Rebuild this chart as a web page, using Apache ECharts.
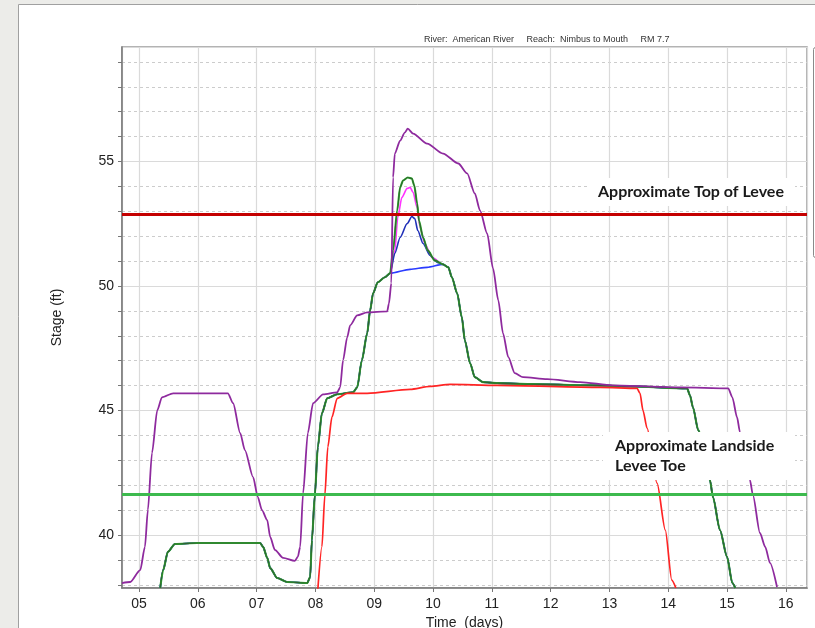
<!DOCTYPE html>
<html>
<head>
<meta charset="utf-8">
<script src="https://cdn.jsdelivr.net/npm/echarts@6/dist/echarts.min.js"></script>
<style>
  html, body { margin: 0; padding: 0; background: #ecece9; }
  #chart { width: 815px; height: 628px; }
</style>
</head>
<body>
<div id="chart"></div>
<script>
// stage hydrographs, x = time (days), y = stage (ft)
const purplePts = [
  [4.71, 38.07], [4.85, 38.11], [5.02, 38.59], [5.10, 39.52], [5.15, 41.00], [5.22, 43.29],
  [5.31, 45.01], [5.39, 45.53], [5.58, 45.69], [6.51, 45.69], [6.60, 45.29], [6.72, 44.09],
  [6.80, 43.41], [6.94, 42.32], [7.02, 41.52], [7.09, 41.00], [7.18, 40.60], [7.23, 39.92],
  [7.31, 39.40], [7.45, 39.08], [7.65, 38.96], [7.70, 39.12], [7.74, 39.52], [7.79, 41.68],
  [7.87, 44.09], [7.96, 45.29], [8.13, 45.65], [8.37, 45.73], [8.42, 45.93], [8.47, 47.02],
  [8.54, 47.94], [8.59, 48.42], [8.71, 48.82], [8.88, 48.94], [9.22, 48.98], [9.25, 49.30],
  [9.29, 50.11], [9.32, 54.36], [9.35, 55.32], [9.44, 55.84], [9.52, 56.16], [9.57, 56.32],
  [9.66, 56.12], [9.90, 55.72], [10.17, 55.32], [10.43, 54.92], [10.58, 54.52], [10.71, 53.72],
  [10.80, 53.03], [10.92, 52.11], [11.02, 50.71], [11.11, 49.42], [11.19, 48.10], [11.28, 47.14],
  [11.39, 46.50], [11.53, 46.34], [11.94, 46.26], [12.50, 46.14], [13.06, 46.01], [14.20, 45.93],
  [15.02, 45.89], [15.09, 45.53], [15.17, 44.73], [15.22, 44.13], [15.39, 42.20], [15.44, 41.60],
  [15.56, 40.08], [15.65, 39.52], [15.73, 38.88], [15.85, 37.91]
];

// shared rising limb of the green / magenta / blue runs
const riseShared = [
  [5.36, 37.87], [5.41, 38.59], [5.49, 39.32], [5.61, 39.64], [5.99, 39.68], [7.06, 39.68],
  [7.11, 39.52], [7.18, 39.08], [7.23, 38.67], [7.35, 38.27], [7.52, 38.11], [7.86, 38.07],
  [7.91, 38.31], [7.94, 39.80], [7.99, 41.60], [8.04, 43.53], [8.11, 44.89], [8.20, 45.49],
  [8.37, 45.65], [8.64, 45.73], [8.71, 45.93], [8.79, 47.02], [8.88, 48.10], [8.93, 49.02],
  [8.98, 49.71], [9.06, 50.15], [9.18, 50.35], [9.27, 50.51]
];

const greenPeak = [
  [9.32, 51.43], [9.39, 53.03], [9.44, 53.96], [9.49, 54.24], [9.57, 54.36], [9.64, 54.32],
  [9.68, 54.04], [9.73, 53.32], [9.76, 52.63], [9.83, 51.95], [9.91, 51.43], [10.03, 51.03]
];
const magentaPeak = [
  [9.35, 51.43], [9.40, 52.75], [9.47, 53.56], [9.56, 53.92], [9.61, 53.96], [9.66, 53.76],
  [9.73, 53.15], [9.78, 52.35], [9.86, 51.71], [9.98, 51.15]
];
const bluePeak = [
  [9.35, 51.31], [9.44, 51.95], [9.56, 52.51], [9.64, 52.79], [9.69, 52.71], [9.74, 52.23],
  [9.83, 51.71], [9.95, 51.23], [10.07, 50.95]
];
const blueFlat = [[9.61, 50.67], [9.90, 50.75]];

// shared falling limb
const fallShared = [
  [10.17, 50.87], [10.26, 50.75], [10.32, 50.35], [10.41, 49.71], [10.49, 48.74], [10.54, 47.82],
  [10.63, 46.90], [10.71, 46.34], [10.85, 46.14], [11.09, 46.10], [11.65, 46.06], [12.79, 46.01],
  [13.35, 45.97], [14.32, 45.89], [14.37, 45.61], [14.42, 45.13], [14.51, 44.21], [14.71, 42.20],
  [14.76, 41.52], [14.88, 40.20], [15.00, 39.12], [15.09, 38.07], [15.14, 37.87]
];

const redPts = [
  [8.04, 37.79], [8.11, 39.52], [8.16, 41.60], [8.21, 43.53], [8.28, 44.73], [8.37, 45.49],
  [8.54, 45.69], [8.88, 45.69], [9.61, 45.85], [9.95, 45.97], [10.29, 46.05], [11.09, 46.01],
  [12.84, 45.93], [13.47, 45.89], [13.52, 45.69], [13.57, 45.01], [13.64, 44.29], [13.81, 42.08],
  [13.95, 40.20], [14.06, 38.19], [14.13, 37.87]
];

const topOfLevee = 52.87;
const leveeToe = 41.64;

const xMin = 4.71, xMax = 16.36;
const yMin = 37.87, yMax = 59.6;

let chart = echarts.init(document.getElementById('chart'));

function run(peak) {
  return riseShared.concat(peak, fallShared);
}
function lineSeries(name, data, color, width, z) {
  return {
    name: name, type: 'line', data: data, showSymbol: false, symbol: 'none',
    smooth: 0.25, smoothMonotone: 'x',
    lineStyle: { color: color, width: width }, z: z, animation: false
  };
}

const labelFont = { fontFamily: 'Liberation Sans, Arial, sans-serif', fontSize: 14, color: '#222' };

let option = {
  backgroundColor: '#ecece9',
  animation: false,
  title: {
    text: 'River:  American River     Reach:  Nimbus to Mouth     RM 7.7',
    left: 419, top: 30,
    textStyle: { fontFamily: 'Liberation Sans, Arial, sans-serif', fontSize: 9, fontWeight: 'normal', color: '#333' }
  },
  grid: {
    left: 122, top: 47, right: 8, bottom: 40,
    outerBoundsMode: 'none',
    show: true, borderColor: '#9a9a9a', borderWidth: 1.5
  },
  xAxis: {
    type: 'value', min: xMin, max: xMax, splitNumber: 12,
    name: 'Time  (days)', nameLocation: 'middle', nameGap: 21,
    nameTextStyle: labelFont,
    axisLine: { show: true, lineStyle: { color: '#777', width: 1.5 } },
    axisTick: { show: true, length: 4, lineStyle: { color: '#777' } },
    axisLabel: Object.assign({
      margin: 9, showMinLabel: false, showMaxLabel: false,
      formatter: v => Math.abs(v - Math.round(v)) > 1e-6 ? '' : String(Math.round(v)).padStart(2, '0')
    }, labelFont),
    splitLine: { show: true, lineStyle: { color: '#dadada', width: 1.2 } }
  },
  yAxis: [
    {
      type: 'value', min: yMin, max: yMax, splitNumber: 20,
      name: 'Stage (ft)', nameLocation: 'middle', nameGap: 58,
      nameTextStyle: labelFont,
      axisLine: { show: true, lineStyle: { color: '#777', width: 1.5 } },
      axisTick: { show: true, length: 4, lineStyle: { color: '#777' } },
      axisLabel: Object.assign({
        margin: 8, showMinLabel: false, showMaxLabel: false,
        formatter: v => (Math.abs(v % 5) < 1e-6) ? String(v) : ''
      }, labelFont),
      splitLine: { show: true, lineStyle: { color: '#cccccc', type: [3, 3], width: 1 } }
    },
    {
      type: 'value', min: yMin, max: yMax, splitNumber: 4, position: 'left',
      axisLine: { show: false }, axisTick: { show: false }, axisLabel: { show: false },
      splitLine: { show: true, lineStyle: { color: '#dadada', width: 1.2 } }
    }
  ],
  series: [
    lineSeries('Magenta', run(magentaPeak), '#ff33ff', 1.6, 2),
    lineSeries('Blue', run(blueFlat), '#2a3cff', 1.6, 2),
    lineSeries('Blue peak', run(bluePeak), '#2030b8', 1.6, 2),
    lineSeries('Green', run(greenPeak), '#33b033', 2.1, 3),
    lineSeries('Dark green', run(greenPeak), '#2e632e', 1.1, 4),
    lineSeries('Purple', purplePts, '#8e2a9e', 1.8, 4),
    lineSeries('Red', redPts, '#ff2424', 1.7, 4),
    {
      name: 'Levee', type: 'line', data: [], z: 6, animation: false,
      markLine: {
        silent: true, symbol: 'none', label: { show: false }, animation: false,
        data: [
          { yAxis: topOfLevee, lineStyle: { color: '#c40000', width: 3, type: 'solid' } },
          { yAxis: leveeToe, lineStyle: { color: '#3dba4e', width: 3, type: 'solid' } }
        ]
      }
    }
  ],
  graphic: [
    { type: 'rect', z: -10, shape: { x: 18.5, y: 4.5, width: 820, height: 640 },
      style: { fill: '#fff', stroke: '#a0a0a0', lineWidth: 1 } },
    { type: 'rect', z: -9, shape: { x: 813.5, y: 47.5, width: 20, height: 210, r: 2 },
      style: { fill: '#fff', stroke: '#8a8a8a', lineWidth: 1 } },
    { type: 'rect', z: 100, shape: { x: 590, y: 178, width: 205, height: 28 },
      style: { fill: '#fff' } },
    { type: 'text', z: 101, x: 598, y: 192,
      style: { text: 'Approximate Top of Levee', fill: '#1a1a1a', font: 'bold 16px Lato, sans-serif', verticalAlign: 'middle' } },
    { type: 'rect', z: 100, shape: { x: 603, y: 432, width: 192, height: 48 },
      style: { fill: '#fff' } },
    { type: 'text', z: 101, x: 615, y: 436,
      style: { text: 'Approximate Landside\nLevee Toe', fill: '#1a1a1a', font: 'bold 16px Lato, sans-serif', lineHeight: 20 } }
  ]
};

chart.setOption(option);
</script>
</body>
</html>
